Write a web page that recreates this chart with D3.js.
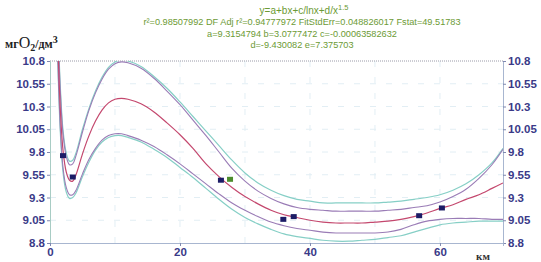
<!DOCTYPE html>
<html>
<head>
<meta charset="utf-8">
<script src="https://cdn.jsdelivr.net/npm/d3@7"></script>
<style>
  body { margin: 0; background: #fff; }
  svg { display: block; }
  .tick text { font-family: "Liberation Sans", Arial, sans-serif; }
</style>
</head>
<body>
<svg id="chart" width="541" height="262"></svg>
<script>
// values
const xs = [1.0, 1.3, 1.6, 2, 2.5, 3, 3.5, 4, 5, 6, 7, 8, 9, 10, 11, 12, 14, 16, 18, 20, 22, 24, 26, 28, 30,
  32, 34, 36, 38, 40, 42, 44, 46, 48, 50, 52, 54, 56, 58, 60, 62, 64, 66, 68, 69.7];

const fitY = [11.6, 10.8, 10.25, 9.82, 9.58, 9.49, 9.48, 9.55, 9.78, 9.98, 10.14, 10.26, 10.34, 10.38, 10.39,
  10.38, 10.33, 10.24, 10.12, 9.99, 9.84, 9.67, 9.53, 9.41, 9.31, 9.23, 9.16, 9.11, 9.08, 9.05, 9.03, 9.02,
  9.02, 9.02, 9.03, 9.04, 9.06, 9.09, 9.13, 9.18, 9.22, 9.28, 9.33, 9.40, 9.46];

const confHi = [11.8, 11.0, 10.45, 10.0, 9.75, 9.66, 9.67, 9.76, 10.02, 10.26, 10.45, 10.6, 10.71, 10.77, 10.79,
  10.78, 10.72, 10.61, 10.47, 10.32, 10.15, 9.98, 9.80, 9.62, 9.48, 9.37, 9.29, 9.23, 9.19, 9.17, 9.16, 9.15,
  9.15, 9.15, 9.15, 9.16, 9.17, 9.19, 9.21, 9.25, 9.31, 9.39, 9.51, 9.66, 9.83];

const predHi = [11.85, 11.05, 10.5, 10.04, 9.79, 9.70, 9.71, 9.79, 10.05, 10.28, 10.47, 10.62, 10.73, 10.79, 10.81,
  10.8, 10.74, 10.63, 10.5, 10.35, 10.19, 10.03, 9.87, 9.71, 9.57, 9.46, 9.38, 9.32, 9.28, 9.26, 9.24, 9.24,
  9.24, 9.24, 9.24, 9.25, 9.26, 9.28, 9.30, 9.33, 9.38, 9.45, 9.55, 9.68, 9.84];

const confLo = [11.4, 10.6, 10.05, 9.63, 9.41, 9.33, 9.33, 9.38, 9.56, 9.72, 9.84, 9.93, 9.98, 10.0, 10.0,
  9.98, 9.93, 9.86, 9.77, 9.67, 9.56, 9.45, 9.34, 9.24, 9.16, 9.09, 9.03, 8.99, 8.96, 8.94, 8.92, 8.91,
  8.91, 8.91, 8.91, 8.92, 8.95, 9.00, 9.04, 9.06, 9.07, 9.07, 9.07, 9.06, 9.06];

const predLo = [11.35, 10.55, 10.0, 9.58, 9.36, 9.29, 9.30, 9.35, 9.53, 9.69, 9.82, 9.91, 9.96, 9.98, 9.98,
  9.96, 9.91, 9.83, 9.74, 9.63, 9.52, 9.40, 9.28, 9.17, 9.08, 9.01, 8.95, 8.90, 8.87, 8.85, 8.83, 8.82,
  8.82, 8.83, 8.84, 8.86, 8.88, 8.92, 8.96, 9.0, 9.02, 9.03, 9.04, 9.04, 9.04];

const pointsX = [2.0, 3.5, 26.3, 27.7, 35.9, 37.5, 56.8, 60.3];
const pointsY = [9.76, 9.525, 9.49, 9.50, 9.06, 9.09, 9.10, 9.185];

const yTicks = [8.8, 9.05, 9.3, 9.55, 9.8, 10.05, 10.3, 10.55, 10.8];
const xTicks = [0, 20, 40, 60];

const titleLines = [
  'r\u00B2=0.98507992  DF Adj r\u00B2=0.94777972  FitStdErr=0.048826017  Fstat=49.51783',
  'a=9.3154794 b=3.0777472 c=-0.00063582632',
  'd=-9.430082 e=7.375703'
];

const svg = d3.select('#chart');
const L = 50, R = 503, T = 61, B = 243;

const x = d3.scaleLinear().domain([0, 69.7]).range([L, R]);
const y = d3.scaleLinear().domain([8.8, 10.8]).range([B, T]);

// header text (green)
const green = '#6c9a34';
const head = svg.append('text')
  .attr('x', 304).attr('y', 14)
  .attr('text-anchor', 'middle')
  .attr('font-family', 'Liberation Sans, Arial, sans-serif')
  .attr('font-size', 10)
  .attr('fill', green);
head.append('tspan').text('y=a+bx+c/lnx+d/x');
head.append('tspan').attr('dy', -4).attr('font-size', 7.5).text('1.5');

titleLines.forEach((t, i) => {
  svg.append('text')
    .attr('x', 302).attr('y', 25 + i * 11.5)
    .attr('text-anchor', 'middle')
    .attr('font-family', 'Liberation Sans, Arial, sans-serif')
    .attr('font-size', 9.2)
    .attr('fill', green)
    .text(t);
});

// unit label
const unit = svg.append('text')
  .attr('x', 5).attr('y', 48)
  .attr('font-family', 'Liberation Serif, Times New Roman, serif')
  .attr('font-size', 12)
  .attr('font-weight', 'bold')
  .attr('fill', '#222');
unit.append('tspan').text('мг');
unit.append('tspan').attr('font-size', 16).attr('font-weight', 'normal').text('O');
unit.append('tspan').attr('dy', 3).attr('font-size', 10).text('2');
unit.append('tspan').attr('dy', -3).text('/дм');
unit.append('tspan').attr('dy', -5).attr('font-size', 10).text('3');

// faint grid
const grid = svg.append('g').attr('stroke', '#e2eef4').attr('stroke-dasharray', '6,10');
grid.selectAll('line.h').data(yTicks.slice(1, -1)).join('line')
  .attr('x1', L).attr('x2', R).attr('y1', d => y(d)).attr('y2', d => y(d));
grid.selectAll('line.v').data([10, 20, 30, 40, 50, 60]).join('line')
  .attr('y1', T).attr('y2', B).attr('x1', d => x(d)).attr('x2', d => x(d));

// top border
svg.append('line')
  .attr('x1', L).attr('x2', R).attr('y1', T).attr('y2', T)
  .attr('stroke', '#9a9aa8').attr('stroke-dasharray', '1,1');

// axes
const tickColor = '#3a3a88';
const fmt = d => String(d);

const gl = svg.append('g').attr('transform', `translate(${L},0)`)
  .call(d3.axisLeft(y).tickValues(yTicks).tickFormat(fmt).tickSize(3).tickPadding(2));
const gr = svg.append('g').attr('transform', `translate(${R},0)`)
  .call(d3.axisRight(y).tickValues(yTicks).tickFormat(fmt).tickSize(3).tickPadding(2));
const gb = svg.append('g').attr('transform', `translate(0,${B})`)
  .call(d3.axisBottom(x).tickValues(xTicks).tickFormat(fmt).tickSize(3).tickPadding(2));

[gl, gr, gb].forEach(g => {
  g.select('.domain').attr('stroke', '#a8b6d0');
  g.selectAll('.tick line').attr('stroke', '#8088b0');
  g.selectAll('.tick text').attr('fill', tickColor).attr('font-size', 11.5).attr('font-weight', 'bold');
});
gl.select('.domain').attr('stroke', '#a8ccc4');

svg.append('text')
  .attr('x', 483).attr('y', 260)
  .attr('text-anchor', 'middle')
  .attr('font-family', 'Liberation Serif, Times New Roman, serif')
  .attr('font-size', 11)
  .attr('font-weight', 'bold')
  .attr('fill', '#333')
  .text('км');

// curves
svg.append('clipPath').attr('id', 'plot')
  .append('rect').attr('x', L + 1).attr('y', T).attr('width', R - L - 1).attr('height', B - T);

const line = d3.line()
  .x(d => x(d[0]))
  .y(d => y(d[1]))
  .curve(d3.curveCatmullRom.alpha(0.5));

const curves = [
  { vals: predHi, color: '#86cfc6', w: 1.2 },
  { vals: predLo, color: '#86cfc6', w: 1.2 },
  { vals: confHi, color: '#9a7cb6', w: 1.1 },
  { vals: confLo, color: '#9a7cb6', w: 1.1 },
  { vals: fitY, color: '#c4486e', w: 1.2 }
];

const cg = svg.append('g').attr('clip-path', 'url(#plot)');
curves.forEach(c => {
  cg.append('path')
    .datum(xs.map((v, i) => [v, c.vals[i]]))
    .attr('fill', 'none')
    .attr('stroke', c.color)
    .attr('stroke-width', c.w)
    .attr('d', line);
});

// data points
svg.append('g').selectAll('rect')
  .data(pointsX.map((v, i) => [v, pointsY[i]]))
  .join('rect')
  .attr('x', d => x(d[0]) - 3)
  .attr('y', d => y(d[1]) - 2.5)
  .attr('width', 6)
  .attr('height', 5)
  .attr('fill', (d, i) => i === 3 ? '#4c8c2c' : '#1c1c66');
</script>
</body>
</html>
